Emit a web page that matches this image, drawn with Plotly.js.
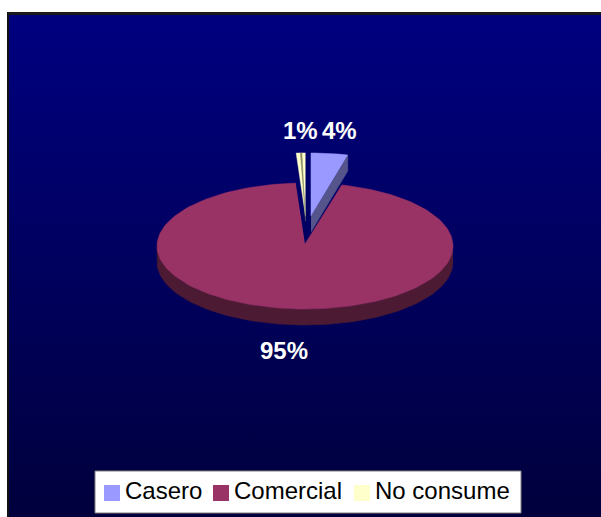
<!DOCTYPE html>
<html>
<head>
<meta charset="utf-8">
<script src="https://cdn.plot.ly/plotly-3.0.1.min.js"></script>
<style>
  html, body { margin: 0; padding: 0; background: #fff; overflow: hidden; }
  #frame { position: absolute; left: 7px; top: 12px; width: 600px; height: 510px; box-sizing: border-box;
           border-left: 2px solid #111; border-top: 3px solid #1a1a1a;
           background: linear-gradient(to bottom, #000080 0%, #00003c 100%); }
  #chart { position: absolute; left: 0; top: 0; width: 601px; height: 517px; }
</style>
</head>
<body>
<div id="frame"></div>
<div id="chart"></div>
<script>
// Consumption type shares, in percent
const categories = ["Casero", "Comercial", "No consume"];
const shares = [4, 95, 1];
const topColors = ["#9999ff", "#993366", "#ffffcc"];
const sideColors = ["#55558c", "#4d1a33", "#8c8c66"];

// Tilted-disc geometry, in the chart's own coordinate system
const disc = { cx: 305, cy: 247, rx: 148, ry: 63, depth: 16 };
const pulledOut = [[6, -31], [0, -1], [0.5, -31]];
const apexLift = [0, -2, 0];
const labelSpots = [[339.5, 130], [284, 350], [300, 130]];

function rim(a, o) {
  const t = a * Math.PI / 180;
  return [disc.cx + o[0] + disc.rx * Math.sin(t), disc.cy + o[1] - disc.ry * Math.cos(t)];
}
function arc(a0, a1, o) {
  const pts = [];
  const n = Math.max(2, Math.ceil(Math.abs(a1 - a0) / 2));
  for (let i = 0; i <= n; i++) pts.push(rim(a0 + (a1 - a0) * i / n, o));
  return pts;
}
function poly(pts, color, name) {
  return { x: pts.map(p => p[0]), y: pts.map(p => p[1]), mode: "lines", fill: "toself",
           fillcolor: color, line: { width: 0.5, color: color }, hoverinfo: "skip",
           showlegend: false, name: name };
}

// Sweep angles clockwise from the back of the disc
const total = shares.reduce((a, b) => a + b, 0);
const spans = [];
let run = 0;
shares.forEach(v => { spans.push([run, run + v / total * 360]); run += v / total * 360; });

const apex = (o, lift) => [disc.cx + o[0], disc.cy + o[1] + (lift || 0)];
const down = (p, d) => [p[0], p[1] + d];
const traces = [];

// Comercial: rim wall first, then its top face
{
  const o = pulledOut[1];
  const front = arc(90, 270, o);
  traces.push(poly(front.concat(front.slice().reverse().map(p => down(p, disc.depth))), sideColors[1], categories[1]));
  traces.push(poly([apex(o, apexLift[1])].concat(arc(spans[1][0], spans[1][1], o)), topColors[1], categories[1]));
}
// No consume: thin wedge with a sliver of its inner wall
{
  const o = pulledOut[2];
  traces.push(poly([apex(o)].concat(arc(spans[2][0], spans[2][1], o)), topColors[2], categories[2]));
  const edge = rim(spans[2][0] + 1.6, o);
  traces.push(poly([apex(o), edge, rim(spans[2][0] + 2.2, o), down(apex(o), 5)], sideColors[2], categories[2]));
}
// Casero: outer wall along its leading edge, then the top face
{
  const o = pulledOut[0];
  const a = apex(o), e = rim(spans[0][1], o);
  traces.push(poly([a, e, down(e, disc.depth), down(a, disc.depth)], sideColors[0], categories[0]));
  traces.push(poly([a].concat(arc(spans[0][0], spans[0][1], o)), topColors[0], categories[0]));
}

// Value labels
const annotations = shares.map((v, i) => ({
  x: labelSpots[i][0], y: labelSpots[i][1], xref: "x", yref: "y", showarrow: false,
  text: "<b>" + v + "%</b>", font: { family: "Liberation Sans, Arial", size: 24, color: "#ffffff" }
}));

// Legend box drawn as one row of swatch + name
const shapes = [{ type: "rect", xref: "x", yref: "y", x0: 95, x1: 521, y0: 471, y1: 513,
                  fillcolor: "#ffffff", line: { color: "#808080", width: 1 }, layer: "above" }];
const swatchX = [104, 213, 354];
categories.forEach((c, i) => {
  shapes.push({ type: "rect", xref: "x", yref: "y", x0: swatchX[i], x1: swatchX[i] + 16, y0: 485, y1: 501,
                fillcolor: topColors[i], line: { width: 0 }, layer: "above" });
  annotations.push({ x: swatchX[i] + 19, y: 490, xref: "x", yref: "y", xanchor: "left", showarrow: false,
                     text: c, font: { family: "Liberation Sans, Arial", size: 24, color: "#000000" } });
});

Plotly.newPlot("chart", traces, {
  width: 601, height: 517, margin: { l: 0, r: 0, t: 0, b: 0 },
  paper_bgcolor: "rgba(0,0,0,0)", plot_bgcolor: "rgba(0,0,0,0)", showlegend: false,
  xaxis: { range: [0, 601], visible: false, fixedrange: true },
  yaxis: { range: [517, 0], visible: false, fixedrange: true },
  shapes: shapes, annotations: annotations
}, { displayModeBar: false, staticPlot: true });
</script>
</body>
</html>
